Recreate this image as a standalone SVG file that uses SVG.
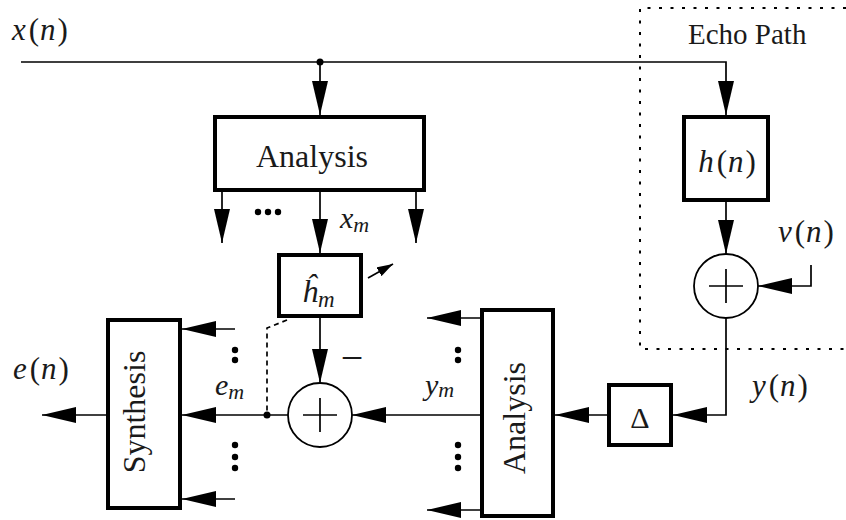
<svg xmlns="http://www.w3.org/2000/svg" width="846" height="520" viewBox="0 0 846 520">
<style>
.ln{fill:none;stroke:#000;stroke-width:1.7}
.box{fill:#fff;stroke:#000;stroke-width:4}
.sum{fill:#fff;stroke:#000;stroke-width:1.8}
.t{font-family:"Liberation Serif","Times New Roman",serif;fill:#1a1a1a}
.m{font-family:"Liberation Serif","Times New Roman",serif;font-style:italic;fill:#1a1a1a}
.r{font-style:normal}
.dot{fill:#000}
</style>
<defs>
<marker id="ah" markerUnits="userSpaceOnUse" markerWidth="34" markerHeight="18" refX="34" refY="9" orient="auto"><path d="M0,1 L34,9 L0,17 z" fill="#000"/></marker>
<marker id="ahs" markerUnits="userSpaceOnUse" markerWidth="16" markerHeight="10" refX="16" refY="5" orient="auto"><path d="M0,0 L16,5 L0,10 z" fill="#000"/></marker>
</defs>
<rect width="846" height="520" fill="#fff"/>

<g id="echo-region">
<path d="M846,8 H640 V349 H846" fill="none" stroke="#000" stroke-width="2" stroke-dasharray="3 8.5"/>
<text class="t" x="688" y="44" font-size="29">Echo Path</text>
</g>

<g id="connectors">
<path class="ln" d="M21,62 H726 V115" marker-end="url(#ah)"/>
<path class="ln" d="M320,62 V115" marker-end="url(#ah)"/>
<path class="ln" d="M222,190 V243" marker-end="url(#ah)"/>
<path class="ln" d="M320,190 V253" marker-end="url(#ah)"/>
<path class="ln" d="M416,190 V243" marker-end="url(#ah)"/>
<path class="ln" d="M320,318 V383" marker-end="url(#ah)"/>
<path class="ln" d="M726,202 V254" marker-end="url(#ah)"/>
<path class="ln" d="M811,265 V286 H758" marker-end="url(#ah)"/>
<path class="ln" d="M726,318 V415 H673" marker-end="url(#ah)"/>
<path class="ln" d="M607,415 H555" marker-end="url(#ah)"/>
<path class="ln" d="M480,415 H352" marker-end="url(#ah)"/>
<path class="ln" d="M288,415 H182" marker-end="url(#ah)"/>
<path class="ln" d="M106,415 H42" marker-end="url(#ah)"/>
<path class="ln" d="M480,318 H427" marker-end="url(#ah)"/>
<path class="ln" d="M480,510 H427" marker-end="url(#ah)"/>
<path class="ln" d="M235,329 H182" marker-end="url(#ah)"/>
<path class="ln" d="M235,499 H182" marker-end="url(#ah)"/>
<path class="ln" d="M368,278 L393,264" marker-end="url(#ahs)"/>
<path class="ln" d="M287,320 L267,328 V415" stroke-dasharray="5 4"/>
<circle class="dot" cx="320" cy="62" r="3.5"/>
<circle class="dot" cx="267" cy="415" r="3.5"/>
</g>

<g id="x-input">
<text class="m" x="12" y="40" font-size="31">x<tspan class="r" dx="3">(</tspan><tspan dx="1">n</tspan><tspan class="r" dx="2">)</tspan></text>
</g>

<g id="analysis-top">
<rect class="box" x="215" y="117" width="209" height="73"/>
<text class="t" x="312" y="167" font-size="32" text-anchor="middle">Analysis</text>
</g>

<g id="subband-dots">
<circle class="dot" cx="258" cy="212" r="3.2"/>
<circle class="dot" cx="268" cy="212" r="3.2"/>
<circle class="dot" cx="278" cy="212" r="3.2"/>
<circle class="dot" cx="235" cy="350" r="3.2"/>
<circle class="dot" cx="235" cy="360" r="3.2"/>
<circle class="dot" cx="235" cy="445" r="3.2"/>
<circle class="dot" cx="235" cy="457" r="3.2"/>
<circle class="dot" cx="235" cy="468" r="3.2"/>
<circle class="dot" cx="458" cy="350" r="3.2"/>
<circle class="dot" cx="458" cy="360" r="3.2"/>
<circle class="dot" cx="458" cy="445" r="3.2"/>
<circle class="dot" cx="458" cy="457" r="3.2"/>
<circle class="dot" cx="458" cy="468" r="3.2"/>
</g>

<g id="xm-label">
<text class="m" x="340" y="228" font-size="30">x<tspan font-size="22" dy="4">m</tspan></text>
</g>

<g id="hm-filter">
<rect class="box" x="279" y="255" width="82" height="61"/>
<text class="m" x="302" y="302" font-size="32">ĥ<tspan font-size="23" dy="5">m</tspan></text>
</g>

<g id="sum-error">
<circle class="sum" cx="320" cy="415" r="32"/>
<path class="ln" d="M303,415 H337 M320,398 V432"/>
<text class="t" x="352" y="371" font-size="40" text-anchor="middle">−</text>
</g>

<g id="em-label">
<text class="m" x="215" y="395" font-size="30">e<tspan font-size="22" dy="4">m</tspan></text>
</g>

<g id="ym-label">
<text class="m" x="425" y="395" font-size="30">y<tspan font-size="22" dy="2">m</tspan></text>
</g>

<g id="synthesis">
<rect class="box" x="108" y="320" width="72" height="188"/>
<text class="t" transform="translate(145,412) rotate(-90)" font-size="32" text-anchor="middle">Synthesis</text>
</g>

<g id="en-label">
<text class="m" x="13" y="379" font-size="31">e<tspan class="r" dx="3">(</tspan><tspan dx="1">n</tspan><tspan class="r" dx="2">)</tspan></text>
</g>

<g id="analysis-right">
<rect class="box" x="482" y="310" width="71" height="206"/>
<text class="t" transform="translate(525,418) rotate(-90)" font-size="32" text-anchor="middle">Analysis</text>
</g>

<g id="delay">
<rect class="box" x="609" y="385" width="62" height="60"/>
<text class="t" x="640" y="428" font-size="30" text-anchor="middle">Δ</text>
</g>

<g id="echo-filter">
<rect class="box" x="684" y="117" width="84" height="83"/>
<text class="m" x="727" y="172" font-size="31" text-anchor="middle">h<tspan class="r" dx="3">(</tspan><tspan dx="1">n</tspan><tspan class="r" dx="2">)</tspan></text>
</g>

<g id="sum-echo">
<circle class="sum" cx="726" cy="286" r="32"/>
<path class="ln" d="M709,286 H743 M726,269 V303"/>
</g>

<g id="vn-label">
<text class="m" x="778" y="242" font-size="31">v<tspan class="r" dx="3">(</tspan><tspan dx="1">n</tspan><tspan class="r" dx="2">)</tspan></text>
</g>

<g id="yn-label">
<text class="m" x="752" y="396" font-size="31">y<tspan class="r" dx="3">(</tspan><tspan dx="1">n</tspan><tspan class="r" dx="2">)</tspan></text>
</g>
</svg>
